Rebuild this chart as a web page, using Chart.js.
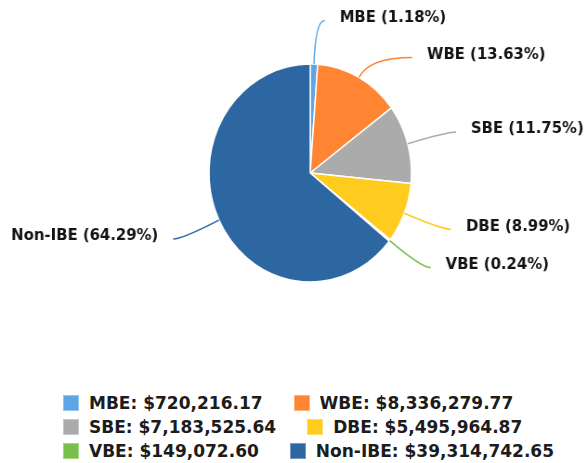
<!DOCTYPE html>
<html>
<head>
<meta charset="utf-8">
<script src="https://cdn.jsdelivr.net/npm/chart.js"></script>
<style>
   html, body { margin: 0; padding: 0; background: #fff; }
   body { width: 587px; height: 463px; position: relative; overflow: hidden; }
   #legend {
      position: absolute;
      left: 63px;
      top: 394px;
      width: 510px;
      display: flex;
      flex-wrap: wrap;
      column-gap: 31px;
      row-gap: 7px;
      font: bold 17px "DejaVu Sans", sans-serif;
      color: #1c1c1c;
   }
   .legend-item { display: flex; align-items: center; height: 17px; white-space: nowrap; }
   .legend-box { width: 16px; height: 16px; margin-right: 10px; box-sizing: border-box; }
</style>
</head>
<body>
<!-- the source picture is squeezed sideways, so the canvas is drawn wider and shrunk -->
<canvas id="chart" width="632" height="385" style="display:block;width:587px;height:385px"></canvas>
<div id="legend"></div>
<script>
const categories = ["MBE", "WBE", "SBE", "DBE", "VBE", "Non-IBE"];
const amounts = [720216.17, 8336279.77, 7183525.64, 5495964.87, 149072.6, 39314742.65];
const shares = [1.18, 13.63, 11.75, 8.99, 0.24, 64.29];
const colors = ["#5ea6e8", "#ff8533", "#ababab", "#ffcb1f", "#78bf4b", "#2d67a2"];

const LABEL_REACH = 1.4;
const LABEL_GAP = 37;
const TAIL = 10;

function formatMoney(value) {
   return "$" + value.toLocaleString("en-US", { minimumFractionDigits: 2, maximumFractionDigits: 2 });
}

const outsideLabels = {
   id: "outsideLabels",
   afterDatasetsDraw(chart) {
      const { ctx } = chart;
      const meta = chart.getDatasetMeta(0);

      const placed = meta.data.map((arc, i) => {
         const { x, y, startAngle, endAngle, outerRadius } = arc.getProps(
            ["x", "y", "startAngle", "endAngle", "outerRadius"],
            true
         );
         const mid = (startAngle + endAngle) / 2;
         const cos = Math.cos(mid);
         const sin = Math.sin(mid);
         const reach = outerRadius * LABEL_REACH;
         return {
            i, x, y, cos, sin, outerRadius, reach,
            right: cos >= 0,
            lx: x + reach * cos,
            ly: y + reach * sin,
         };
      });

      // labels that sit too close get pushed down along the outer ring
      [true, false].forEach((side) => {
         const group = placed.filter((p) => p.right === side).sort((a, b) => a.ly - b.ly);
         for (let k = 1; k < group.length; k++) {
            const prev = group[k - 1];
            const cur = group[k];
            if (cur.ly - prev.ly < LABEL_GAP) {
               cur.ly = prev.ly + LABEL_GAP;
               const dy = cur.ly - cur.y;
               const dx = Math.sqrt(Math.max(cur.reach * cur.reach - dy * dy, 0));
               cur.lx = cur.x + (side ? dx : -dx);
            }
         }
      });

      ctx.save();
      ctx.font = 'bold 16px "DejaVu Sans", sans-serif';
      ctx.textBaseline = "middle";
      placed.forEach((p) => {
         const r = p.outerRadius;
         const dir = p.right ? 1 : -1;
         // bend point: where the slice's radial line reaches the label height
         let t = Math.abs(p.sin) > 0.05 ? (p.ly - p.y) / p.sin : p.reach;
         t = Math.max(t, r * 1.1);
         const cx = p.x + t * p.cos;
         const cy = p.y + t * p.sin;
         const endX = p.lx + dir * TAIL;

         ctx.beginPath();
         ctx.strokeStyle = colors[p.i];
         ctx.lineWidth = 1.5;
         ctx.moveTo(p.x + r * p.cos, p.y + r * p.sin);
         ctx.quadraticCurveTo(cx, cy, endX, p.ly);
         ctx.stroke();

         ctx.fillStyle = "#141414";
         ctx.textAlign = p.right ? "left" : "right";
         const text = categories[p.i] + " (" + shares[p.i].toFixed(2) + "%)";
         ctx.fillText(text, endX + dir * 16, p.ly - 3);
      });
      ctx.restore();
   },
};

const chart = new Chart(document.getElementById("chart"), {
   type: "pie",
   data: {
      labels: categories,
      datasets: [
         {
            data: amounts,
            backgroundColor: colors,
            borderColor: "#ffffff",
            borderWidth: 1.5,
         },
      ],
   },
   options: {
      responsive: false,
      animation: false,
      devicePixelRatio: 1,
      radius: 109,
      layout: {
         padding: { left: 100, right: 64, top: 40, bottom: 79 },
      },
      plugins: {
         legend: { display: false },
         tooltip: { enabled: false },
      },
   },
   plugins: [outsideLabels],
});

const legendEl = document.getElementById("legend");
categories.forEach((name, i) => {
   const item = document.createElement("div");
   item.className = "legend-item";
   const box = document.createElement("span");
   box.className = "legend-box";
   box.style.background = colors[i];
   box.style.border = "1px solid rgba(255,255,255,0.35)";
   const label = document.createElement("span");
   label.textContent = name + ": " + formatMoney(amounts[i]);
   item.appendChild(box);
   item.appendChild(label);
   legendEl.appendChild(item);
});
</script>
</body>
</html>
